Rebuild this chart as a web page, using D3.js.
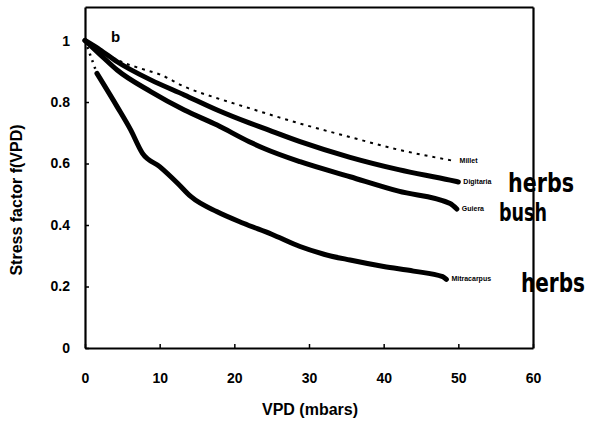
<!DOCTYPE html>
<html>
<head>
<meta charset="utf-8">
<script src="https://cdn.jsdelivr.net/npm/d3@7"></script>
<style>
  html, body { margin: 0; padding: 0; background: #fff; }
  svg { display: block; }
  text { font-family: Arial, "Liberation Sans", sans-serif; fill: #000; }
</style>
</head>
<body>
<svg id="chart" width="595" height="432" viewBox="0 0 595 432"></svg>
<script>
// ---- data ----
const xTicks = [0, 10, 20, 30, 40, 50, 60];
const yTicks = [0, 0.2, 0.4, 0.6, 0.8, 1];
const yTickLabels = ["0", "0.2", "0.4", "0.6", "0.8", "1"];

const milletVPD = [0, 2, 4.3, 8, 10, 13.3, 18, 22, 26, 28.8, 35.5, 42, 49.5];
const milletF   = [1, 0.97, 0.937, 0.905, 0.89, 0.85, 0.81, 0.78, 0.75, 0.73, 0.686, 0.645, 0.608];

const digitariaVPD = [0, 2, 4.3, 8.8, 13.3, 17.7, 22, 24, 28.8, 35.5, 42, 48.9, 50];
const digitariaF   = [1, 0.97, 0.931, 0.872, 0.823, 0.774, 0.732, 0.714, 0.671, 0.62, 0.58, 0.546, 0.54];

const guieraVPD = [0, 2, 4.3, 8.8, 13.3, 17.7, 22, 24, 28.8, 35.5, 42, 48.9, 49.8];
const guieraF   = [1, 0.955, 0.904, 0.834, 0.774, 0.725, 0.671, 0.649, 0.606, 0.557, 0.51, 0.47, 0.452];

const mitraLeadVPD = [0, 1.6];
const mitraLeadF   = [1, 0.893];
const mitraVPD = [1.6, 4.3, 6.1, 7.7, 10, 12.4, 14.2, 17.7, 21.3, 25, 28.8, 32, 35.5, 40, 44, 47.9, 48.4];
const mitraF   = [0.893, 0.785, 0.71, 0.633, 0.59, 0.536, 0.492, 0.443, 0.405, 0.37, 0.33, 0.305, 0.286, 0.265, 0.25, 0.232, 0.223];

const seriesNames = ["Millet", "Digitaria", "Guiera", "Mitracarpus"];
const notes = ["herbs", "bush", "herbs"];

// ---- layout ----
const svg = d3.select("#chart");
const x = d3.scaleLinear().domain([0, 60]).range([85, 533]);
const y = d3.scaleLinear().domain([0, 1.109]).range([348, 7]);

const zip = (a, b) => a.map((v, i) => [v, b[i]]);
const line = d3.line().x(d => x(d[0])).y(d => y(d[1])).curve(d3.curveMonotoneX);
const straight = d3.line().x(d => x(d[0])).y(d => y(d[1]));

// axes with their own domain lines, ticks pointing inward
const xAxis = d3.axisBottom(x).tickValues(xTicks).tickSizeInner(-4).tickSizeOuter(0).tickPadding(35).tickFormat(d3.format("d"));
const gx = svg.append("g").attr("transform", `translate(0,${y(0)})`).call(xAxis);
const xAxisTop = d3.axisTop(x).tickValues([]).tickSizeOuter(0);
const gxt = svg.append("g").attr("transform", `translate(0,${y(1.109)})`).call(xAxisTop);

const yAxis = d3.axisLeft(y).tickValues(yTicks).tickSizeInner(-4).tickSizeOuter(0).tickPadding(15)
  .tickFormat((d, i) => yTickLabels[i]);
const gy = svg.append("g").attr("transform", `translate(${x(0)},0)`).call(yAxis);
const yAxisR = d3.axisRight(y).tickValues([]).tickSizeOuter(0);
const gyr = svg.append("g").attr("transform", `translate(${x(60)},0)`).call(yAxisR);

svg.selectAll(".domain").attr("stroke", "#000").attr("stroke-width", 2.2).attr("fill", "none");
svg.selectAll(".tick line").attr("stroke", "#000").attr("stroke-width", 1.5);
svg.selectAll(".tick text").attr("font-size", 14).attr("font-weight", "bold").attr("fill", "#000");
gx.selectAll(".tick text").attr("dy", "0");

// axis titles
svg.append("text").attr("x", 310).attr("y", 415).attr("text-anchor", "middle")
  .attr("font-size", 16).attr("font-weight", "bold").text("VPD (mbars)");
svg.append("text").attr("transform", "translate(22,200) rotate(-90)").attr("text-anchor", "middle")
  .attr("font-size", 16).attr("font-weight", "bold").text("Stress factor f(VPD)");

// panel letter
svg.append("text").attr("x", 111).attr("y", 42).attr("font-size", 15).attr("font-weight", "bold").text("b");

// curves
svg.append("path").datum(zip(milletVPD, milletF)).attr("d", line)
  .attr("fill", "none").attr("stroke", "#000").attr("stroke-width", 2).attr("stroke-dasharray", "3,5");
svg.append("path").datum(zip(digitariaVPD, digitariaF)).attr("d", line)
  .attr("fill", "none").attr("stroke", "#000").attr("stroke-width", 5).attr("stroke-linecap", "round");
svg.append("path").datum(zip(guieraVPD, guieraF)).attr("d", line)
  .attr("fill", "none").attr("stroke", "#000").attr("stroke-width", 5).attr("stroke-linecap", "round");
svg.append("path").datum(zip(mitraLeadVPD, mitraLeadF)).attr("d", straight)
  .attr("fill", "none").attr("stroke", "#000").attr("stroke-width", 2.5).attr("stroke-dasharray", "2,5");
svg.append("path").datum(zip(mitraVPD, mitraF)).attr("d", line)
  .attr("fill", "none").attr("stroke", "#000").attr("stroke-width", 5).attr("stroke-linecap", "round");

// series labels at line ends
const ends = [
  [milletVPD[milletVPD.length - 1], milletF[milletF.length - 1]],
  [digitariaVPD[digitariaVPD.length - 1], digitariaF[digitariaF.length - 1]],
  [guieraVPD[guieraVPD.length - 1], guieraF[guieraF.length - 1]],
  [mitraVPD[mitraVPD.length - 1], mitraF[mitraF.length - 1]]
];
svg.selectAll(".slabel").data(seriesNames).enter().append("text")
  .attr("class", "slabel")
  .attr("x", (d, i) => x(ends[i][0]) + 5)
  .attr("y", (d, i) => y(ends[i][1]) + 2)
  .attr("font-size", 7).attr("font-weight", "bold").text(d => d);

// handwritten notes
const notePos = [[508, 192, 66, 26], [499, 221, 48, 24], [521, 292, 64, 26]];
svg.selectAll(".note").data(notes).enter().append("text")
  .attr("class", "note")
  .attr("x", (d, i) => notePos[i][0]).attr("y", (d, i) => notePos[i][1])
  .attr("textLength", (d, i) => notePos[i][2]).attr("lengthAdjust", "spacingAndGlyphs")
  .attr("font-size", (d, i) => notePos[i][3]).attr("font-weight", "bold")
  .style("font-family", "'DejaVu Sans Condensed', 'DejaVu Sans', sans-serif")
  .text(d => d);
</script>
</body>
</html>
